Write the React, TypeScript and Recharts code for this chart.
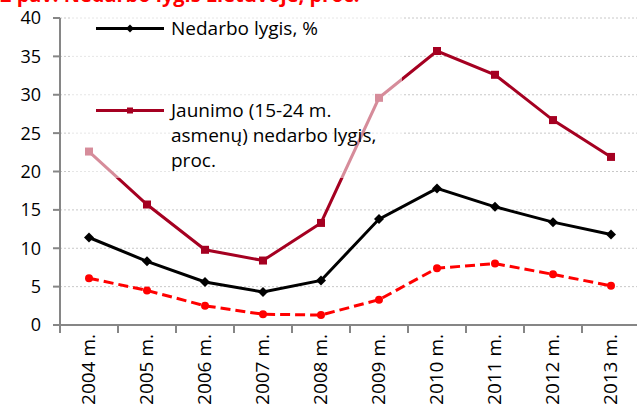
import { CartesianGrid, Legend, Line, LineChart, XAxis, YAxis } from 'recharts'

const years = ['2004 m.', '2005 m.', '2006 m.', '2007 m.', '2008 m.', '2009 m.', '2010 m.', '2011 m.', '2012 m.', '2013 m.']
const total = [11.4, 8.3, 5.6, 4.3, 5.8, 13.8, 17.8, 15.4, 13.4, 11.8]
const youth = [22.6, 15.7, 9.8, 8.4, 13.3, 29.6, 35.7, 32.6, 26.7, 21.9]
const longTerm = [6.1, 4.5, 2.5, 1.4, 1.3, 3.3, 7.4, 8.0, 6.6, 5.1]
const yTicks = [0, 5, 10, 15, 20, 25, 30, 35, 40]

const data = years.map((year, i) => ({
    year,
    total: total[i],
    youth: youth[i],
    longTerm: longTerm[i],
}))

const CHART_W = 640
const CHART_H = 407
const Y_AXIS_W = 60
const PLOT_W = CHART_W - Y_AXIS_W
const HALF_BAND = PLOT_W / years.length / 2
const FONT = '"Open Sans", sans-serif'

const Diamond = ({ cx, cy, r = 5, fill = '#000' }: any) => (
    <polygon points={`${cx},${cy - r} ${cx + r},${cy} ${cx},${cy + r} ${cx - r},${cy}`} fill={fill} />
)

const XTick = (props: any) => {
    const { x, y, payload } = props
    return (
        <g>
            <line x1={x - HALF_BAND} x2={x - HALF_BAND} y1={y - 8} y2={y} stroke="#868686" strokeWidth={2} />
            <text
                x={x + 6}
                y={y + 1}
                transform={`rotate(-90, ${x + 6}, ${y + 1})`}
                textAnchor="end"
                fontSize={19}
                fill="#000"
                fontFamily={FONT}
            >
                {payload.value}
            </text>
        </g>
    )
}

const renderLegend = () => (
    <div style={{ fontFamily: FONT, fontSize: 19, color: '#000', lineHeight: '25px' }}>
        <div style={{ position: 'absolute', left: 26, top: 6, display: 'flex' }}>
            <svg width={70} height={25}>
                <line x1={0} x2={68} y1={12.5} y2={12.5} stroke="#000" strokeWidth={3} />
                <Diamond cx={34} cy={12.5} r={4} />
            </svg>
            <span style={{ marginLeft: 5 }}>Nedarbo lygis, %</span>
        </div>
        <div style={{ position: 'absolute', left: 26, top: 88, display: 'flex' }}>
            <svg width={70} height={25}>
                <line x1={0} x2={68} y1={12.5} y2={12.5} stroke="#a50021" strokeWidth={3} />
                <rect x={31} y={9.5} width={6} height={6} fill="#a50021" />
            </svg>
            <span style={{ marginLeft: 5, width: 230 }}>Jaunimo (15-24 m. asmenų) nedarbo lygis, proc.</span>
        </div>
    </div>
)

export default function App() {
    return (
        <div style={{ position: 'absolute', left: 0, top: 0, width: 637, height: 407, overflow: 'hidden', background: '#fff' }}>
            <div
                style={{
                    position: 'absolute',
                    left: 0,
                    top: -15,
                    fontFamily: FONT,
                    fontSize: 20,
                    lineHeight: 1,
                    fontWeight: 700,
                    color: '#ff0000',
                    whiteSpace: 'nowrap',
                    zIndex: 2,
                }}
            >
                2 pav. Nedarbo lygis Lietuvoje, proc.
            </div>
            <LineChart width={CHART_W} height={CHART_H} data={data} margin={{ top: 18, right: 0, left: 0, bottom: 0 }}>
                <CartesianGrid vertical={false} stroke="#c8c8c8" strokeDasharray="2 2" />
                <XAxis
                    dataKey="year"
                    height={82}
                    padding={{ left: HALF_BAND, right: HALF_BAND }}
                    interval={0}
                    axisLine={{ stroke: '#868686', strokeWidth: 2 }}
                    tickLine={false}
                    tickSize={8}
                    tickMargin={0}
                    tick={<XTick />}
                />
                <YAxis
                    width={Y_AXIS_W}
                    domain={[0, 40]}
                    ticks={yTicks}
                    interval={0}
                    axisLine={{ stroke: '#868686', strokeWidth: 2 }}
                    tickLine={{ stroke: '#868686', strokeWidth: 2 }}
                    tickSize={7}
                    tickMargin={12}
                    tick={{ fill: '#000', fontSize: 18, fontFamily: FONT }}
                />
                <Line
                    dataKey="longTerm"
                    stroke="#ff0000"
                    strokeWidth={3}
                    strokeDasharray="10 5"
                    legendType="none"
                    dot={{ r: 4, fill: '#ff0000', stroke: '#ff0000', strokeWidth: 0 }}
                    isAnimationActive={false}
                />
                <Line
                    dataKey="total"
                    stroke="#000"
                    strokeWidth={3}
                    dot={(p: any) => <Diamond key={p.index} cx={p.cx} cy={p.cy} r={5} />}
                    isAnimationActive={false}
                />
                <Line
                    dataKey="youth"
                    stroke="#a50021"
                    strokeWidth={3}
                    dot={(p: any) => (
                        <rect key={p.index} x={p.cx - 4} y={p.cy - 4} width={8} height={8} fill="#a50021" />
                    )}
                    isAnimationActive={false}
                />
                <Legend
                    layout="vertical"
                    align="center"
                    verticalAlign="middle"
                    content={renderLegend}
                    wrapperStyle={{
                        left: 70,
                        top: 10,
                        width: 332,
                        height: 168,
                        background: 'rgba(255,255,255,0.55)',
                    }}
                />
            </LineChart>
        </div>
    )
}
